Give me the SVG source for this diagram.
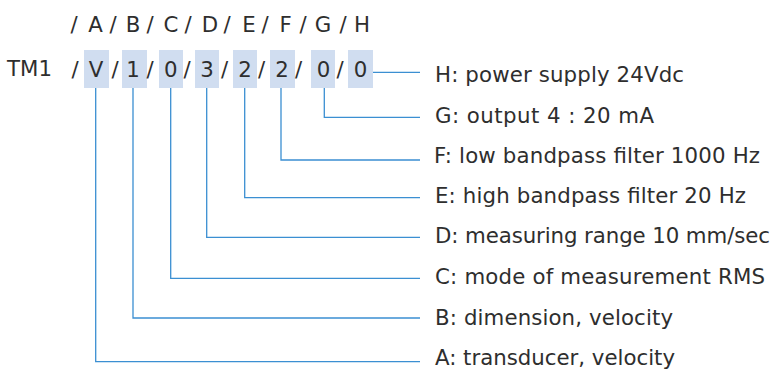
<svg xmlns="http://www.w3.org/2000/svg" width="773" height="369" viewBox="0 0 773 369">
<style>
text{font-family:"DejaVu Sans","Verdana",sans-serif;font-size:21.3px;fill:#2e2e2e}
.c{text-anchor:middle}
.box{fill:#d0ddf0}
.ln{fill:none;stroke:#3b8fd2;stroke-width:1.3}
</style>
<rect width="773" height="369" fill="#fff"/>
<g id="header">
<text class="c" x="74" y="32">/</text><text class="c" x="95.5" y="32">A</text>
<text class="c" x="113" y="32">/</text><text class="c" x="133" y="32">B</text>
<text class="c" x="150" y="32">/</text><text class="c" x="171" y="32">C</text>
<text class="c" x="188" y="32">/</text><text class="c" x="210" y="32">D</text>
<text class="c" x="227" y="32">/</text><text class="c" x="249" y="32">E</text>
<text class="c" x="265" y="32">/</text><text class="c" x="285.5" y="32">F</text>
<text class="c" x="303" y="32">/</text><text class="c" x="323" y="32">G</text>
<text class="c" x="343" y="32">/</text><text class="c" x="362" y="32">H</text>
</g>
<g id="code">
<text x="7" y="76">TM1</text>
<rect class="box" x="84" y="50" width="25" height="38"/>
<rect class="box" x="122" y="50" width="25" height="38"/>
<rect class="box" x="159" y="50" width="24" height="38"/>
<rect class="box" x="195" y="50" width="24" height="38"/>
<rect class="box" x="233" y="50" width="24" height="38"/>
<rect class="box" x="270" y="50" width="25" height="38"/>
<rect class="box" x="311" y="50" width="24" height="38"/>
<rect class="box" x="348" y="50" width="25" height="38"/>
<text class="c" x="75" y="77">/</text><text class="c" x="96" y="77">V</text>
<text class="c" x="115" y="77">/</text><text class="c" x="133" y="77">1</text>
<text class="c" x="150" y="77">/</text><text class="c" x="170.7" y="77">0</text>
<text class="c" x="187" y="77">/</text><text class="c" x="207" y="77">3</text>
<text class="c" x="224.5" y="77">/</text><text class="c" x="245" y="77">2</text>
<text class="c" x="261.5" y="77">/</text><text class="c" x="282" y="77">2</text>
<text class="c" x="298.5" y="77">/</text><text class="c" x="323.5" y="77">0</text>
<text class="c" x="340" y="77">/</text><text class="c" x="360.5" y="77">0</text>
</g>
<g id="connectors">
<path class="ln" d="M373 72.3H420"/>
<path class="ln" d="M324.3 88V117.3H420"/>
<path class="ln" d="M281 88V160H420"/>
<path class="ln" d="M244.7 88V197.7H420"/>
<path class="ln" d="M206.7 88V237.3H420"/>
<path class="ln" d="M170.7 88V278.3H420"/>
<path class="ln" d="M133 88V318H420"/>
<path class="ln" d="M95.7 88V361.7H420"/>
</g>
<g id="labels">
<text x="435" y="81.7" textLength="249" lengthAdjust="spacing">H: power supply 24Vdc</text>
<text x="435" y="122.7" textLength="219" lengthAdjust="spacing">G: output 4 : 20 mA</text>
<text x="434" y="162.7" textLength="326" lengthAdjust="spacing">F: low bandpass filter 1000 Hz</text>
<text x="435" y="203.3" textLength="311" lengthAdjust="spacing">E: high bandpass filter 20 Hz</text>
<text x="435" y="243.3" textLength="335" lengthAdjust="spacing">D: measuring range 10 mm/sec</text>
<text x="435" y="284.3" textLength="330" lengthAdjust="spacing">C: mode of measurement RMS</text>
<text x="435" y="325" textLength="238" lengthAdjust="spacing">B: dimension, velocity</text>
<text x="435" y="365" textLength="240" lengthAdjust="spacing">A: transducer, velocity</text>
</g>
</svg>
